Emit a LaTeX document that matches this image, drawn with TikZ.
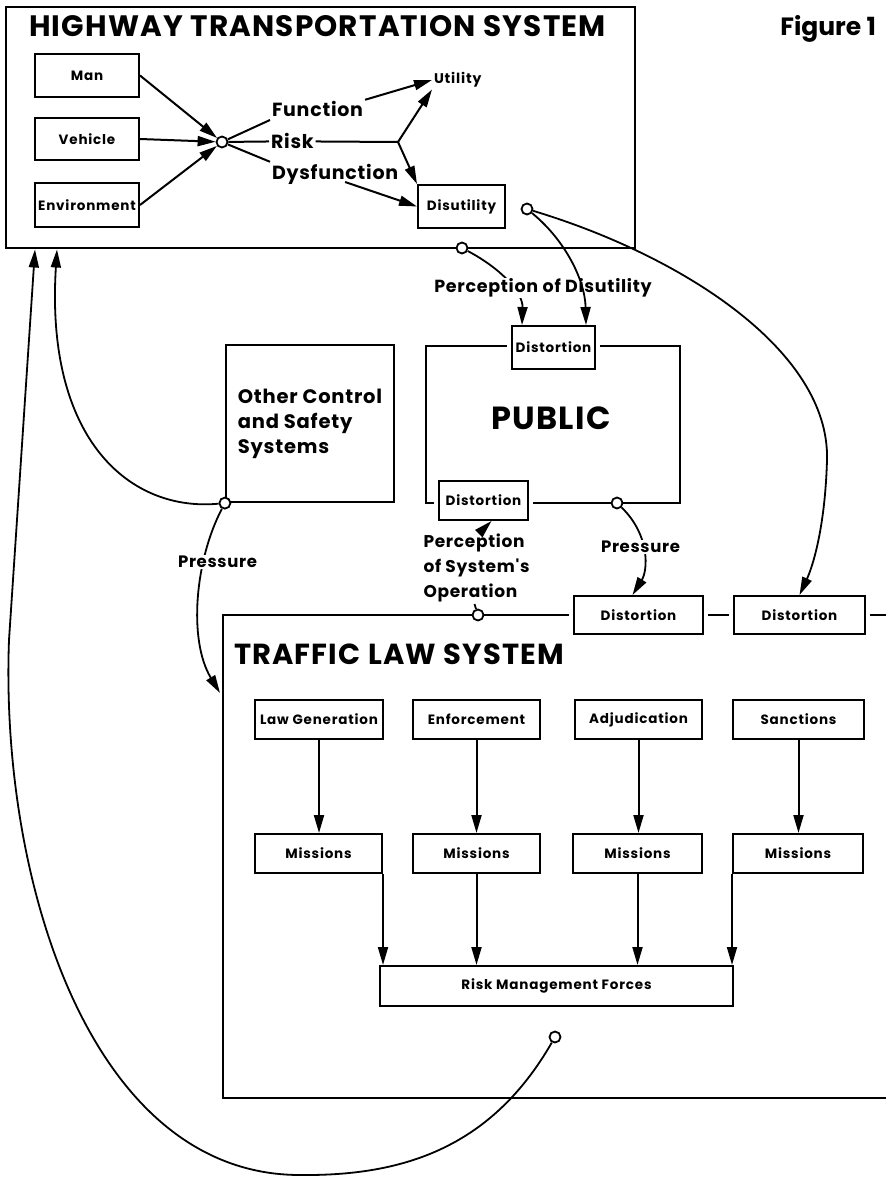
\documentclass[tikz,border=0pt]{standalone}
\usepackage{fontspec}
\setmainfont{Poppins}
\newfontfamily\widefont{Poppins}[LetterSpace=4]
\newfontfamily\boxfont{Poppins}[LetterSpace=6]
\usetikzlibrary{arrows.meta, positioning, calc}

\begin{document}
\begin{tikzpicture}[x=1pt, y=-1pt, line width=2pt,
  >={Triangle[length=18pt, width=10pt]},
  every node/.style={inner sep=1pt},
  sysbox/.style={draw, line width=2.2pt, inner sep=0pt},
  unitbox/.style={draw, fill=white, inner sep=0pt, font=\boxfont\bfseries\fontsize{13.5}{15}\selectfont},
  distbox/.style={unitbox, preaction={draw=white, line width=10pt}},
  joint/.style={circle, draw, fill=white, inner sep=0pt, minimum size=11pt, line width=1.8pt},
  lbl/.style={font=\widefont\bfseries\fontsize{#1}{#1}\selectfont},
  curve/.style={line width=1.8pt}]

\useasboundingbox (0,0) rectangle (886,1177);

% Highway transportation system
\node[sysbox, minimum width=629, minimum height=241] (hts) at (320.5,127.5) {};
\node[lbl=29.5, anchor=base west] (htstitle) at (27,37) {HIGHWAY TRANSPORTATION SYSTEM};
\node[font=\bfseries\fontsize{25}{25}\selectfont, anchor=base east] (fig) at (878,36) {Figure 1};
\coordinate (htsL) at (35,249.5);
\coordinate (htsR) at (57,249.5);

\node[unitbox, minimum width=104, minimum height=43] (man) at (87,75.5) {Man};
\node[unitbox, minimum width=104, minimum height=42] (veh) at (87,139) {Vehicle};
\node[unitbox, minimum width=104, minimum height=44] (env) at (87,205) {Environment};
\node[joint] (j) at (222,142) {};
\foreach \src in {man, veh, env}
  \draw[->] (\src.east) -- (j);

\node[lbl=19, anchor=base west] (fun) at (270,117) {Function};
\node[lbl=19, anchor=base west] (risk) at (269,149) {Risk};
\node[lbl=19, anchor=base west] (dys) at (270,179) {Dysfunction};
\node[font=\boxfont\bfseries\fontsize{14}{16}\selectfont, anchor=west] (util) at (432,80) {Utility};
\node[unitbox, minimum width=87, minimum height=43] (dis) at (461.5,206.5) {Disutility};
\coordinate (br) at (398,142);

\draw (j) -- ([yshift=-3pt]fun.base west);
\draw (j) -- (risk.west);
\draw (j) -- (dys.north west);
\draw (risk.east) -- (br);
\draw[->] (br) -- (util.south west);
\draw[->] (br) -- (dis.north west);
\draw[->] (fun.north east) -- (util.west);
\draw[->] ([xshift=10pt, yshift=-3pt]dys.base) -- (dis.west);

\node[joint] (c1) at (527,209) {};
\node[joint] (c2) at (462,248) {};

% Public
\node[sysbox, minimum width=254, minimum height=157] (pub) at (553,424.5) {};
\node[lbl=32] (publbl) at (551,418) {PUBLIC};
\node[distbox, minimum width=83, minimum height=43] (dtop) at (553.5,347.5) {Distortion};
\node[distbox, minimum width=89, minimum height=39] (dbot) at (483.5,500.5) {Distortion};
\node[joint] (c3) at (617,503) {};

% Other control and safety systems
\node[sysbox, minimum width=168, minimum height=157, align=left,
  font=\widefont\bfseries\fontsize{19.5}{25}\selectfont] (ocs) at (310,423.5)
  {Other Control\\and Safety\\Systems};
\node[joint] (c4) at (ocs.south west) {};

% Traffic law system
\coordinate (tlsTL) at (223,615);
\coordinate (tlsTR) at (886,615);
\coordinate (tlsBR) at (886,1098);
\coordinate (tlsIn) at (220,693);
\draw[line width=2.2pt] (tlsBR) -| (tlsTL) -- (tlsTR);
\node[distbox, minimum width=129, minimum height=38] (dmid) at (638.5,615) {Distortion};
\node[distbox, minimum width=131, minimum height=38] (dright) at (799.5,615) {Distortion};
\node[joint] (c5) at (478,615) {};
\node[lbl=29, anchor=base west] (tlstitle) at (232,664) {TRAFFIC LAW SYSTEM};

\foreach \nm/\x/\w/\txt in {lg/319/128/Law Generation, enf/476.5/127/Enforcement,
    adj/638.5/127/Adjudication, san/798.5/131/Sanctions}
  \node[unitbox, minimum width=\w, minimum height=39] (\nm) at (\x,719.5) {\txt};
\foreach \nm/\x/\w in {m1/318.5/127, m2/476.5/127, m3/637.5/129, m4/798/130}
  \node[unitbox, minimum width=\w, minimum height=39] (\nm) at (\x,853.5) {Missions};
\foreach \src/\dst in {lg/m1, enf/m2, adj/m3, san/m4}
  \draw[->] (\src.south) -- (\src.south |- \dst.north);

\node[unitbox, minimum width=353, minimum height=40] (rmf) at (556.5,986) {Risk Management Forces};
\draw[->] (m1.south east) -- (m1.south east |- rmf.north);
\draw[->] (m2.south) -- (m2.south |- rmf.north);
\draw[->] (m3.south) -- (m3.south |- rmf.north);
\draw[->] (m4.south west) -- (m4.south west |- rmf.north);
\node[joint] (c6) at (555,1037) {};

% Perception and pressure loops
\draw[->, curve] (c2) .. controls (500,268) and (523,292) .. ([xshift=11pt]dtop.north west);
\node[lbl=17.5, fill=white] (pdis) at (543,288) {Perception of Disutility};
\draw[->, curve] (c1) .. controls (565,240) and (585,280) .. ([xshift=-10pt]dtop.north east);
\draw[->, curve] (c1) .. controls (680,255) and (830,350) .. (827,460)
  .. controls (825,530) and (812,568) .. (dright.north);

\draw[->, curve] (c3) .. controls (650,535) and (648,570) .. ([xshift=-6pt]dmid.north);
\node[lbl=16.5, fill=white] (pr1) at (640.5,547) {Pressure};

\node[align=left, font=\widefont\bfseries\fontsize{17}{25}\selectfont] (psys) at (476.5,568)
  {Perception\\of System's\\Operation};
\draw[curve] (c5) -- ([xshift=-2pt]psys.south);
\draw[->, curve] ([xshift=4pt]psys.north) -- ([xshift=8pt]dbot.south);

\draw[->, curve] (c4) .. controls (130,512) and (45,440) .. (htsR);
\draw[->, curve] (c4) .. controls (195,560) and (188,640) .. (tlsIn);
\node[lbl=16.5, fill=white] (pr2) at (217.5,562) {Pressure};

\draw[->, curve] (c6) .. controls (490,1150) and (400,1176) .. (300,1175)
  .. controls (90,1175) and (0,880) .. (9,640) -- (htsL);

\end{tikzpicture}
\end{document}
